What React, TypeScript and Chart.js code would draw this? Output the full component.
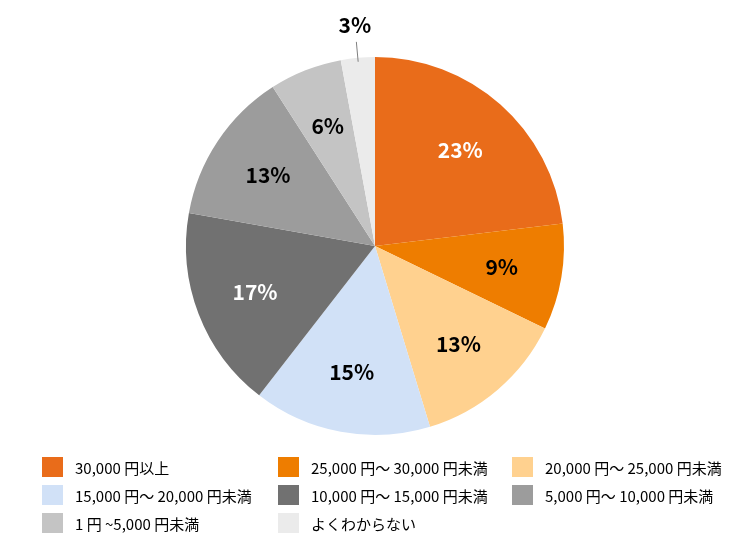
import React, { useEffect, useRef } from "react";
import { Chart, registerables } from "chart.js";

Chart.register(...registerables);

const categories = [
  "30,000 円以上",
  "25,000 円～ 30,000 円未満",
  "20,000 円～ 25,000 円未満",
  "15,000 円～ 20,000 円未満",
  "10,000 円～ 15,000 円未満",
  "5,000 円～ 10,000 円未満",
  "1 円 ~5,000 円未満",
  "よくわからない",
];
const values = [23.1, 9.1, 13.1, 15.2, 17.3, 13.1, 6.2, 2.9];
const colors = ["#E96C1A", "#EE7D00", "#FFD18F", "#D1E1F7", "#717171", "#9C9C9C", "#C4C4C4", "#EBEBEB"];
const labelColors = ["#ffffff", "#000000", "#000000", "#000000", "#ffffff", "#000000", "#000000", "#000000"];
const outsideLabel = [false, false, false, false, false, false, false, true];

const FONT = '"Noto Sans CJK JP", "Noto Sans", sans-serif';

const labelPlugin = {
  id: "sliceLabels",
  afterDatasetsDraw(chart: any) {
    const ctx = chart.ctx;
    const meta = chart.getDatasetMeta(0);
    const total = values.reduce((a, b) => a + b, 0);
    ctx.save();
    ctx.font = `600 21px ${FONT}`;
    ctx.textAlign = "center";
    ctx.textBaseline = "middle";
    meta.data.forEach((arc: any, i: number) => {
      const { x, y, startAngle, endAngle, outerRadius } = arc.getProps(
        ["x", "y", "startAngle", "endAngle", "outerRadius"],
        true
      );
      const mid = (startAngle + endAngle) / 2;
      const txt = Math.round((values[i] / total) * 100) + "%";
      if (outsideLabel[i]) {
        const lx = x + Math.cos(mid) * (outerRadius + 33);
        const ly = y + Math.sin(mid) * (outerRadius + 33);
        ctx.strokeStyle = "#7f7f7f";
        ctx.lineWidth = 1;
        ctx.beginPath();
        ctx.moveTo(x + Math.cos(mid) * (outerRadius - 4), y + Math.sin(mid) * (outerRadius - 4));
        ctx.lineTo(x + Math.cos(mid) * (outerRadius + 16), y + Math.sin(mid) * (outerRadius + 16));
        ctx.stroke();
        ctx.fillStyle = "#000000";
        ctx.fillText(txt, lx, ly);
      } else {
        const r = outerRadius * 0.68;
        ctx.fillStyle = labelColors[i];
        ctx.fillText(txt, x + Math.cos(mid) * r, y + Math.sin(mid) * r);
      }
    });
    ctx.restore();
  },
};

export default function App() {
  const ref = useRef<HTMLCanvasElement | null>(null);
  useEffect(() => {
    if (!ref.current) return;
    const chart = new Chart(ref.current, {
      type: "pie",
      data: {
        labels: categories,
        datasets: [
          {
            data: values,
            backgroundColor: colors,
            borderWidth: 0,
          },
        ],
      },
      options: {
        responsive: false,
        animation: false,
        layout: { padding: { top: 57, bottom: 105, left: 0, right: 0 } },
        plugins: {
          legend: { display: false },
          tooltip: { enabled: false },
        },
      },
      plugins: [labelPlugin],
    });
    return () => chart.destroy();
  }, []);

  const colX = [42, 278, 512];
  const rowY = [457, 485, 513];

  return (
    <div style={{ position: "absolute", left: 0, top: 0, width: 750, height: 540, background: "#fff" }}>
      <canvas ref={ref} width={750} height={540} style={{ position: "absolute", left: 0, top: 0, width: 750, height: 540 }} />
      {categories.map((c, i) => {
        const col = i % 3;
        const row = Math.floor(i / 3);
        return (
          <div
            key={c}
            style={{
              position: "absolute",
              left: colX[col],
              top: rowY[row],
              height: 20,
              display: "flex",
              alignItems: "center",
              fontFamily: FONT,
              fontSize: 15,
              color: "#000",
              whiteSpace: "nowrap",
            }}
          >
            <span style={{ display: "inline-block", width: 21, height: 20, background: colors[i], marginRight: 12, flexShrink: 0 }} />
            <span>{c}</span>
          </div>
        );
      })}
    </div>
  );
}
